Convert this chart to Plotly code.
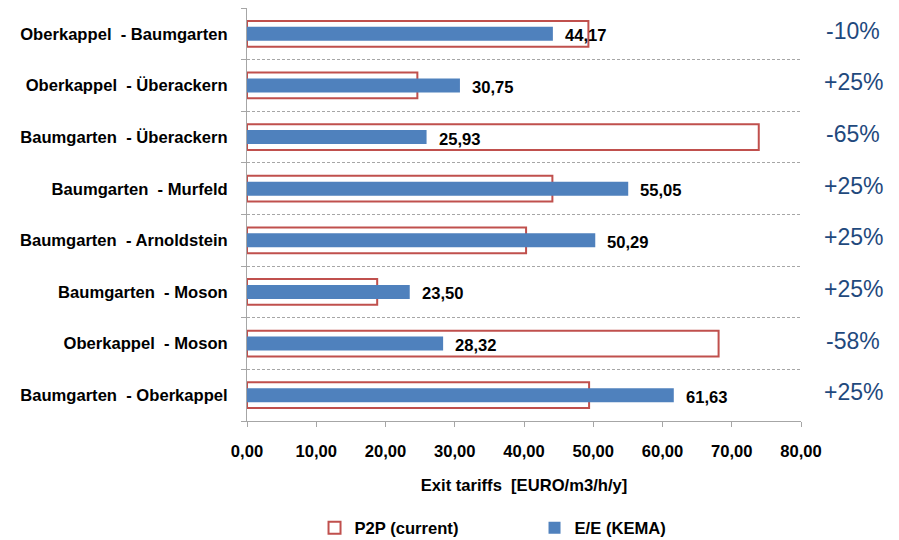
import plotly.graph_objects as go

categories = [
    "Oberkappel  - Baumgarten",
    "Oberkappel  - Überackern",
    "Baumgarten  - Überackern",
    "Baumgarten  - Murfeld",
    "Baumgarten  - Arnoldstein",
    "Baumgarten  - Moson",
    "Oberkappel  - Moson",
    "Baumgarten  - Oberkappel",
]
p2p_current = [49.3, 24.6, 73.9, 44.1, 40.3, 18.8, 68.1, 49.4]
ee_kema = [44.17, 30.75, 25.93, 55.05, 50.29, 23.50, 28.32, 61.63]
ee_labels = ["44,17", "30,75", "25,93", "55,05", "50,29", "23,50", "28,32", "61,63"]
pct_change = ["-10%", "+25%", "-65%", "+25%", "+25%", "+25%", "-58%", "+25%"]
x_ticks = [0, 10, 20, 30, 40, 50, 60, 70, 80]

FONT = "Arial, Liberation Sans, sans-serif"
RED = "#C0504D"
BLUE = "#4F81BD"
PCT = "#1F497D"
GRID = "#A6A6A6"
FS = 16.6
n = len(categories)

fig = go.Figure()
fig.add_trace(go.Bar(
    name="<b>P2P (current)</b>", y=categories, x=p2p_current, orientation="h",
    width=0.5, marker=dict(color="white", line=dict(color=RED, width=2)),
    hoverinfo="x+y",
))
fig.add_trace(go.Bar(
    name="<b>E/E (KEMA)</b>", y=categories, x=ee_kema, orientation="h",
    width=0.27, marker=dict(color=BLUE, line=dict(width=0)),
    hoverinfo="x+y",
))
# helper invisible trace to activate boundary axis for dashed separators
fig.add_trace(go.Scatter(x=[0], y=[0], yaxis="y2", mode="markers",
                         marker=dict(opacity=0), showlegend=False, hoverinfo="skip"))

for cat, v, lab, pct in zip(categories, ee_kema, ee_labels, pct_change):
    fig.add_annotation(x=v, y=cat, text="<b>" + lab + "</b>", showarrow=False,
                       xanchor="left", xshift=10, yshift=-2,
                       font=dict(family=FONT, size=FS, color="black"))
    fig.add_annotation(x=1.094, xref="paper", y=cat, text=pct, showarrow=False,
                       xanchor="center", yshift=3,
                       font=dict(family=FONT, size=23, color=PCT))

fig.update_layout(
    width=899, height=540,
    margin=dict(l=239, r=106, t=0, b=127, autoexpand=False),
    barmode="overlay",
    plot_bgcolor="white", paper_bgcolor="white",
    separators=",.",
    font=dict(family=FONT, size=FS, color="black"),
    xaxis=dict(
        range=[0, 80], tickvals=x_ticks, tickformat=".2f",
        showgrid=False, zeroline=False,
        showline=True, linecolor=GRID, linewidth=1,
        ticks="outside", ticklen=5, tickcolor=GRID,
        ticklabelstandoff=10,
        tickfont=dict(family=FONT, size=FS, color="black", weight="bold"),
        title=dict(text="<b>Exit tariffs  [EURO/m3/h/y]</b>", standoff=19,
                   font=dict(family=FONT, size=FS, color="black")),
    ),
    yaxis=dict(
        type="category", categoryorder="array", categoryarray=categories,
        range=[n - 0.5, -0.5],
        showgrid=False, zeroline=False,
        showline=True, linecolor=GRID, linewidth=1,
        ticks="", ticklabelstandoff=15,
        tickfont=dict(family=FONT, size=FS, color="black", weight="bold"),
    ),
    yaxis2=dict(
        overlaying="y", side="left", range=[n - 0.5, -0.5],
        tickvals=[i - 0.5 for i in range(n + 1)],
        showticklabels=False, zeroline=False,
        showgrid=True, gridcolor=GRID, griddash="3px,2px", gridwidth=1,
        ticks="outside", ticklen=5, tickcolor=GRID,
    ),
    legend=dict(
        orientation="h", x=0.519, xanchor="center",
        yref="container", y=0.037, yanchor="middle",
        font=dict(family=FONT, size=FS, color="black"),
        entrywidth=175, itemwidth=30, traceorder="normal",
    ),
    showlegend=True,
)

fig.write_html("out.html")
